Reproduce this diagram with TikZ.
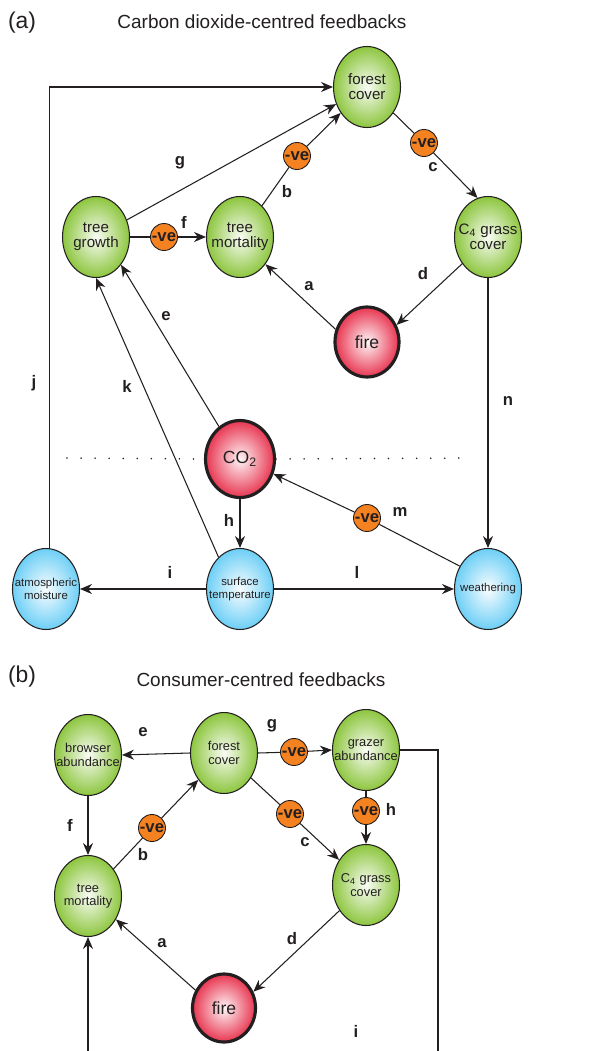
\documentclass[tikz,border=0pt]{standalone}
\usepackage{fontspec}
\setmainfont{Liberation Sans}
\usetikzlibrary{arrows.meta,shapes.geometric}
\definecolor{leaf}{RGB}{141,198,63}
\definecolor{flame}{RGB}{232,53,80}
\definecolor{sky}{RGB}{109,207,246}
\definecolor{vecol}{RGB}{245,130,32}
\definecolor{ink}{RGB}{35,31,32}
\tikzset{
  var/.style={ellipse,draw=ink,line width=0.6pt,minimum width=1.34cm,minimum height=1.62cm,inner sep=0pt},
  veg/.style={var,inner color=leaf!5!white,outer color=leaf},
  clim/.style={var,inner color=sky!4!white,outer color=sky},
  hub/.style={var,line width=1.8pt,inner color=flame!5!white,outer color=flame},
  vebox/.style={circle,draw=ink,line width=0.5pt,fill=vecol,minimum size=0.54cm,inner sep=0pt,
    font=\fontsize{9.5}{10}\selectfont\bfseries,text=ink},
  vtxt/.style={align=center,text=ink,inner sep=0pt,font=\fontsize{8.6}{8.6}\selectfont},
  stxt/.style={align=center,text=ink,inner sep=0pt,font=\fontsize{6.5}{7.5}\selectfont},
  btxt/.style={align=center,text=ink,inner sep=0pt,font=\fontsize{7.3}{7.6}\selectfont},
  htxt/.style={align=center,text=ink,inner sep=0pt,font=\fontsize{10}{10}\selectfont},
  lbl/.style={text=ink,inner sep=0pt,font=\fontsize{9.5}{10}\selectfont\bfseries},
  head/.style={text=ink,inner sep=0pt,font=\fontsize{13}{13}\selectfont},
  title/.style={text=ink,inner sep=0pt,font=\fontsize{10.8}{11}\selectfont},
  ln/.style={draw=ink,line width=0.6pt},
  arr/.style={ln,-{Stealth[length=6.8pt,width=5.7pt]}},
  dotln/.style={draw=ink,line width=1pt,line cap=round,dash pattern=on 0pt off 8pt}
}
\begin{document}
\begin{tikzpicture}[x=0.02cm,y=-0.02cm]
\useasboundingbox (0,0) rectangle (605,1051);

\node[head] (tagA) at (22,23) {(a)};
\node[title] (ttlA) at (262,22) {Carbon dioxide-centred feedbacks};
\node[veg,label={[vtxt]center:{forest\\cover}}] (fc) at (367,87) {};
\node[veg,label={[vtxt]center:{tree\\growth}}] (tg) at (96,237) {};
\node[veg,label={[vtxt]center:{tree\\mortality}}] (tm) at (240,237) {};
\node[veg,label={[vtxt]center:{C\textsubscript{4} grass\\cover}}] (c4) at (488,237) {};
\node[hub,minimum width=1.28cm,minimum height=1.40cm,label={[htxt]center:fire}] (fire) at (367,342) {};
\node[hub,minimum width=1.38cm,minimum height=1.54cm,label={[htxt]center:CO\textsubscript{2}}] (co2) at (240,459) {};
\node[clim,label={[stxt]center:{surface\\temperature}}] (st) at (240,589) {};
\node[clim,label={[stxt]center:{atmospheric\\moisture}}] (am) at (46,589) {};
\node[clim,label={[stxt]center:weathering}] (wt) at (488,589) {};
\node[vebox] (nf) at (164,237) {-ve};
\node[vebox] (nb) at (297,156) {-ve};
\node[vebox] (nc) at (424,143) {-ve};
\node[vebox] (nm) at (367,518) {-ve};
\coordinate (dotL) at (67,458);
\coordinate (dotR) at (470,458);

\draw[dotln] (dotL) -- (co2.west);
\draw[dotln] (co2.east) -- (dotR);
\draw[arr] (am.85) |- (fc.west);
\draw[arr] (tg) -- (fc);
\draw[ln] (tm) -- (nb);
\draw[arr] (nb) -- (fc);
\draw[ln] (fc) -- (nc);
\draw[arr] (nc) -- (c4.105);
\draw[ln] (tg.east) -- (nf);
\draw[arr] (nf) -- (tm.west);
\draw[arr] (fire.158) -- (tm.-47);
\draw[arr] (c4.226) -- (fire.30);
\draw[arr] (co2.123) -- (tg.-48);
\draw[arr] (st.124) -- (tg.south);
\draw[arr] (c4.south) -- (wt.north);
\draw[arr] (co2.south) -- (st.north);
\draw[ln] (wt.141) -- (nm);
\draw[arr] (nm) -- (co2.-24);
\draw[arr] (st.west) -- (am.east);
\draw[arr] (st.east) -- (wt.west);

\node[lbl] (la) at (309,286) {a};
\node[lbl] (lb) at (287,192) {b};
\node[lbl] (lc) at (433,167) {c};
\node[lbl] (ld) at (423,274) {d};
\node[lbl] (le) at (166,316) {e};
\node[lbl] (lf) at (184,222) {f};
\node[lbl] (lg) at (180,163) {g};
\node[lbl] (lh) at (229,520) {h};
\node[lbl] (li) at (170,572) {i};
\node[lbl] (lj) at (34,383) {j};
\node[lbl] (lk) at (127,386) {k};
\node[lbl] (ll) at (357,572) {l};
\node[lbl] (lm) at (400,512) {m};
\node[lbl] (lnn) at (508,401) {n};

\node[head] (tagB) at (22,677) {(b)};
\node[title] (ttlB) at (261,680) {Consumer-centred feedbacks};
\node[veg,label={[btxt]center:{browser\\abundance}}] (ba) at (88,755) {};
\node[veg,label={[btxt]center:{forest\\cover}}] (fc2) at (224,753) {};
\node[veg,label={[btxt]center:{grazer\\abundance}}] (ga) at (366,750) {};
\node[veg,label={[btxt]center:{tree\\mortality}}] (tm2) at (88,896) {};
\node[veg,label={[btxt]center:{C\textsubscript{4} grass\\cover}}] (c42) at (366,885) {};
\node[hub,minimum width=1.26cm,minimum height=1.36cm,label={[htxt]center:fire}] (fire2) at (224,1008) {};
\node[vebox] (ng) at (294,752) {-ve};
\node[vebox] (nh) at (366,811) {-ve};
\node[vebox] (nc2) at (290,814) {-ve};
\node[vebox] (nb2) at (152,828) {-ve};
\coordinate (iend) at (438,1051);
\coordinate (istart) at (88,1051);

\draw[arr] (fc2.west) -- (ba.east);
\draw[ln] (fc2.east) -- (ng);
\draw[arr] (ng) -- (ga.west);
\draw[ln] (ga.south) -- (nh);
\draw[arr] (nh) -- (c42.north);
\draw[arr] (ba.south) -- (tm2.north);
\draw[ln] (tm2) -- (nb2);
\draw[arr] (nb2) -- (fc2);
\draw[ln] (fc2) -- (nc2);
\draw[arr] (nc2) -- (c42);
\draw[arr] (fire2.148) -- (tm2.-40);
\draw[arr] (c42.224) -- (fire2.29);
\draw[ln] (ga.east) -| (iend);
\draw[arr] (istart) -- (tm2.south);

\node[lbl] (la2) at (162,943) {a};
\node[lbl] (lb2) at (143,855) {b};
\node[lbl] (lc2) at (305,842) {c};
\node[lbl] (ld2) at (292,939) {d};
\node[lbl] (le2) at (143,732) {e};
\node[lbl] (lf2) at (70,825) {f};
\node[lbl] (lg2) at (272,726) {g};
\node[lbl] (lh2) at (391,809) {h};
\node[lbl] (li2) at (356,1031) {i};
\end{tikzpicture}
\end{document}
